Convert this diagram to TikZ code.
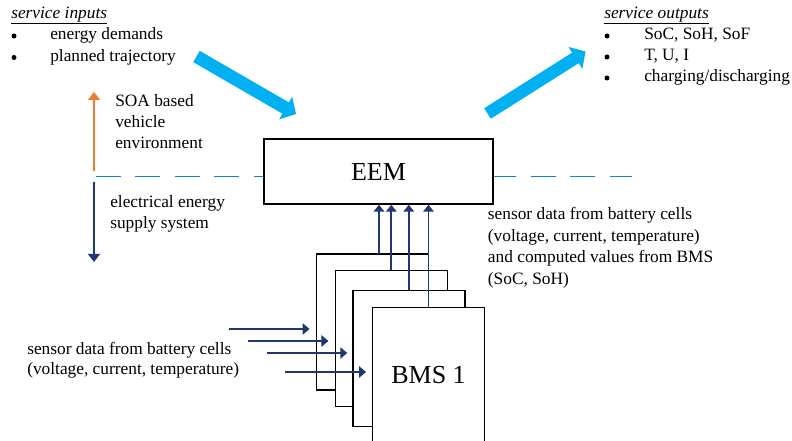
\documentclass[tikz,border=0pt]{standalone}
\usepackage{fontspec}
\setmainfont{Liberation Serif}
\usetikzlibrary{arrows.meta}
\definecolor{navy}{RGB}{32,56,112}
\definecolor{soaorange}{RGB}{237,125,49}
\definecolor{svccyan}{RGB}{0,176,240}
\definecolor{busblue}{RGB}{20,125,215}
\begin{document}
\begin{tikzpicture}[x=0.75pt,y=-0.75pt,
  font=\fontsize{13}{16}\selectfont,
  txt/.style={anchor=mid west, inner sep=0pt},
  bul/.style={fill=black},
  unit/.style={draw, fill=white, line width=1.1pt, inner sep=0pt},
  eembox/.style={unit, minimum width=171.75pt, minimum height=48.75pt, font=\fontsize{19.5}{22}\selectfont},
  bmsbox/.style={unit, minimum width=84pt, minimum height=102pt, font=\fontsize{19.5}{22}\selectfont},
  dataflow/.style={draw=navy, line width=1.3pt, -{Triangle[length=5.25pt, width=8pt]}},
  busline/.style={draw=busblue, line width=1.1pt, dash pattern=on 18.75pt off 10.9pt},
  svc/.style={fill=svccyan}
]
\useasboundingbox (0,0) rectangle (792,441);

% service inputs
\node[txt] (inhead) at (11,15) {\underline{\textit{service inputs}}};
\fill[bul] (14,36) circle (2.5);
\node[txt] (in1) at (50,36.7) {energy demands};
\fill[bul] (14,57.5) circle (2.5);
\node[txt] (in2) at (50,58.3) {planned trajectory};

% service outputs
\node[txt] (outhead) at (604,15) {\underline{\textit{service outputs}}};
\fill[bul] (607,36) circle (2.5);
\node[txt] (out1) at (644,36.7) {SoC, SoH, SoF};
\fill[bul] (607,57) circle (2.5);
\node[txt] (out2) at (644,57.7) {T, U, I};
\fill[bul] (607,78) circle (2.5);
\node[txt] (out3) at (644,78.7) {charging/discharging};

% thick service arrows
\begin{scope}[shift={(196.5,56.5)}, rotate=-30.03]
  \fill[svc] (0,-6.5) -- (103,-6.5) -- (103,-13) -- (115,0) -- (103,13) -- (103,6.5) -- (0,6.5) -- cycle;
\end{scope}
\begin{scope}[shift={(487.5,113.5)}, rotate=32.3]
  \fill[svc] (0,-6.2) -- (104,-6.2) -- (104,-13) -- (116,0) -- (104,13) -- (104,6.2) -- (0,6.2) -- cycle;
\end{scope}

% boundary between the two domains
\coordinate (busl) at (95.7,176.7);
\coordinate (busr) at (632,176.7);
\draw[busline] (busl) -- (busr);

\coordinate (soabase) at (94,171);
\coordinate (soatip) at (94,92);
\coordinate (eesbase) at (94,182);
\coordinate (eestip) at (94,262);
\draw[soaorange, line width=1.1pt, -{Triangle[length=6pt, width=9pt]}] (soabase) -- (soatip);
\draw[navy, line width=1.1pt, -{Triangle[length=6pt, width=9pt]}] (eesbase) -- (eestip);

\node[txt] (soa1) at (115,103) {SOA based};
\node[txt] (soa2) at (115,124) {vehicle};
\node[txt] (soa3) at (115,145) {environment};
\node[txt] (ees1) at (110,204) {electrical energy};
\node[txt] (ees2) at (110,225) {supply system};

% energy management unit
\node[eembox] (eem) at (378.5,171.5) {EEM};

% stacked battery management systems
\node[bmsbox] (bms4) at (372.7,322) {};
\node[bmsbox] (bms3) at (391.3,338.3) {};
\node[bmsbox] (bms2) at (408.8,358.7) {};
\node[bmsbox] (bms1) at (428.5,375.3) {BMS 1};

% data from BMS to EEM
\coordinate (up4) at (379,254);
\draw[dataflow] (up4) -- (up4 |- eem.south);
\draw[dataflow] (bms3.north) -- (bms3.north |- eem.south);
\draw[dataflow] (bms2.north) -- (bms2.north |- eem.south);
\draw[dataflow] (bms1.north) -- (bms1.north |- eem.south);

% cell sensor inputs
\coordinate (cin4) at (229,329);
\coordinate (cin3) at (248,341);
\coordinate (cin2) at (267,353);
\coordinate (cin1) at (285,372);
\draw[dataflow, shorten >=4.8pt, -{Triangle[length=5.25pt, width=8.5pt]}] (cin4) -- (cin4 -| bms4.west);
\draw[dataflow, shorten >=4.6pt, -{Triangle[length=5.25pt, width=8.5pt]}] (cin3) -- (cin3 -| bms3.west);
\draw[dataflow, shorten >=3.6pt, -{Triangle[length=5.25pt, width=8.5pt]}] (cin2) -- (cin2 -| bms2.west);
\draw[dataflow, shorten >=4.3pt, -{Triangle[length=5.25pt, width=8.5pt]}] (cin1) -- (cin1 -| bms1.west);

\node[txt] (cell1) at (27,351.7) {sensor data from battery cells};
\node[txt] (cell2) at (27,371.7) {(voltage, current, temperature)};

\node[txt] (sd1) at (487.7,216.7) {sensor data from battery cells};
\node[txt] (sd2) at (487.7,238) {(voltage, current, temperature)};
\node[txt] (sd3) at (487.7,259.5) {and computed values from BMS};
\node[txt] (sd4) at (487.7,281) {(SoC, SoH)};
\end{tikzpicture}
\end{document}
